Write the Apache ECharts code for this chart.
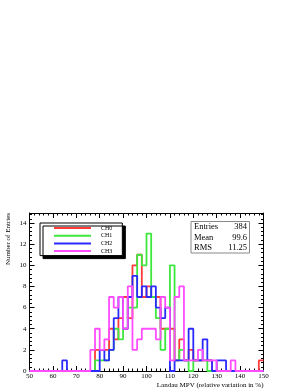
<!DOCTYPE html>
<html>
<head>
<meta charset="utf-8">
<script src="https://cdn.jsdelivr.net/npm/echarts@6/dist/echarts.min.js"></script>
<style>
html,body{margin:0;padding:0;background:#fff;}
#chart{width:293px;height:392px;}
</style>
</head>
<body>
<div id="chart"></div>
<script>
// Histogram bins (lower edges), width 2, range 50..150
const binLowEdges = [50,52,54,56,58,60,62,64,66,68,70,72,74,76,78,80,82,84,86,88,90,92,94,96,98,100,102,104,106,108,110,112,114,116,118,120,122,124,126,128,130,132,134,136,138,140,142,144,146,148];
const binUpperLimit = 150;
const channelNames = ['CH0','CH1','CH2','CH3'];
const ch0 = [0,0,0,0,0,0,0,0,0,0,0,0,0,0,2,2,2,4,3,5,7,5,10,11,7,8,7,7,4,4,4,1,3,1,2,1,1,1,1,0,0,0,0,0,0,0,0,0,0,1];
const ch1 = [0,0,0,0,0,0,0,0,0,0,0,0,0,0,1,1,1,2,4,3,4,6,6,11,10,13,7,5,2,4,10,1,2,1,0,1,1,1,0,0,0,0,0,0,0,0,0,0,0,0];
const ch2 = [0,0,0,0,0,0,0,1,0,0,0,0,0,0,0,2,1,2,5,7,4,7,9,7,8,7,8,6,5,6,0,1,1,1,4,1,1,3,1,0,1,1,0,0,0,0,0,0,0,0];
const ch3 = [0,0,0,0,0,0,0,0,0,0,0,0,0,2,4,2,3,7,6,7,4,8,2,3,4,4,4,3,7,6,1,7,8,1,1,1,2,1,1,1,0,0,0,1,0,0,0,0,0,0];
const channelValues = [ch0, ch1, ch2, ch3];
const channelColors = ['#ff3b3b','#3ee83e','#2a2aff','#ff4cff'];
const statLabels = ['Entries','Mean','RMS'];
const statValues = ['384','99.6','11.25'];
const xTitle = 'Landau MPV (relative variation in %)';
const yTitle = 'Number of Entries';

const FONT = 'Liberation Serif';

function stepData(vals){
  const d = binLowEdges.map((e,i)=>[e, vals[i]]);
  d.push([binUpperLimit, vals[vals.length-1]]);
  return d;
}

const chart = echarts.init(document.getElementById('chart'), null, {renderer:'canvas'});

const axisCommonX = {
  type:'value', min:50, max:150, interval:10,
  axisLine:{show:true, onZero:false, lineStyle:{color:'#000', width:1}},
  axisTick:{show:true, inside:true, length:5, lineStyle:{color:'#000', width:1}},
  minorTick:{show:true, splitNumber:5, length:2.5, lineStyle:{color:'#000', width:1}},
  splitLine:{show:false}
};
const axisCommonY = {
  type:'value', min:0, max:14.95, interval:2,
  axisLine:{show:true, onZero:false, lineStyle:{color:'#000', width:1}},
  axisTick:{show:true, inside:true, length:5, lineStyle:{color:'#000', width:1}},
  minorTick:{show:true, splitNumber:5, length:2.5, lineStyle:{color:'#000', width:1}},
  splitLine:{show:false}
};

const statGraphics = [{
  type:'rect', left:190.5, top:221, z:100,
  shape:{width:58.5, height:31.5},
  style:{fill:'#fff', stroke:'#888', lineWidth:1}
}];
statLabels.forEach((lab,i)=>{
  statGraphics.push({type:'text', x:194, y:227+i*10.5, z:101,
    style:{text:lab, font:'8.5px "'+FONT+'"', fill:'#000', align:'left', verticalAlign:'middle'}});
  statGraphics.push({type:'text', x:247, y:227+i*10.5, z:101,
    style:{text:statValues[i], font:'8.5px "'+FONT+'"', fill:'#000', align:'right', verticalAlign:'middle'}});
});
statGraphics.push({type:'text', x:8, y:213, rotation:Math.PI/2, z:101,
  style:{text:yTitle, font:'7px "'+FONT+'"', fill:'#000', align:'right', verticalAlign:'middle'}});

chart.setOption({
  animation:false,
  backgroundColor:'#fff',
  textStyle:{fontFamily:FONT},
  grid:{left:29.5, right:29.5, top:213, bottom:21, show:false},
  legend:{
    show:true,
    orient:'vertical', left:40, top:223,
    data:channelNames,
    itemWidth:37, itemHeight:7, itemGap:0.7,
    padding:[1.5,10,1,13],
    backgroundColor:'#fff', borderColor:'#000', borderWidth:1,
    shadowColor:'#000', shadowBlur:0, shadowOffsetX:3, shadowOffsetY:3,
    textStyle:{fontFamily:FONT, fontSize:6, color:'#000', lineHeight:7, padding:[0,0,0,5]},
    lineStyle:{width:2},
    itemStyle:{opacity:0, borderWidth:0}
  },
  xAxis:[
    Object.assign({}, axisCommonX, {position:'bottom',
      axisLabel:{show:true, fontFamily:FONT, fontSize:7, color:'#000', margin:2},
      name:xTitle, nameLocation:'end', nameGap:0,
      nameTextStyle:{fontFamily:FONT, fontSize:7, color:'#000', align:'right', verticalAlign:'top', padding:[11,0,0,0]}
    }),
    Object.assign({}, axisCommonX, {position:'top', axisLabel:{show:false}})
  ],
  yAxis:[
    Object.assign({}, axisCommonY, {position:'left',
      axisLabel:{show:true, fontFamily:FONT, fontSize:7, color:'#000', margin:3, showMaxLabel:false}
    }),
    Object.assign({}, axisCommonY, {position:'right', axisLabel:{show:false}})
  ],
  series: channelNames.map((name,i)=>({
    name:name, type:'line', step:'end', symbol:'none',
    data:stepData(channelValues[i]),
    lineStyle:{color:channelColors[i], width:1.8},
    itemStyle:{color:channelColors[i]},
    z:2+i
  })),
  graphic:statGraphics
});
</script>
</body>
</html>
